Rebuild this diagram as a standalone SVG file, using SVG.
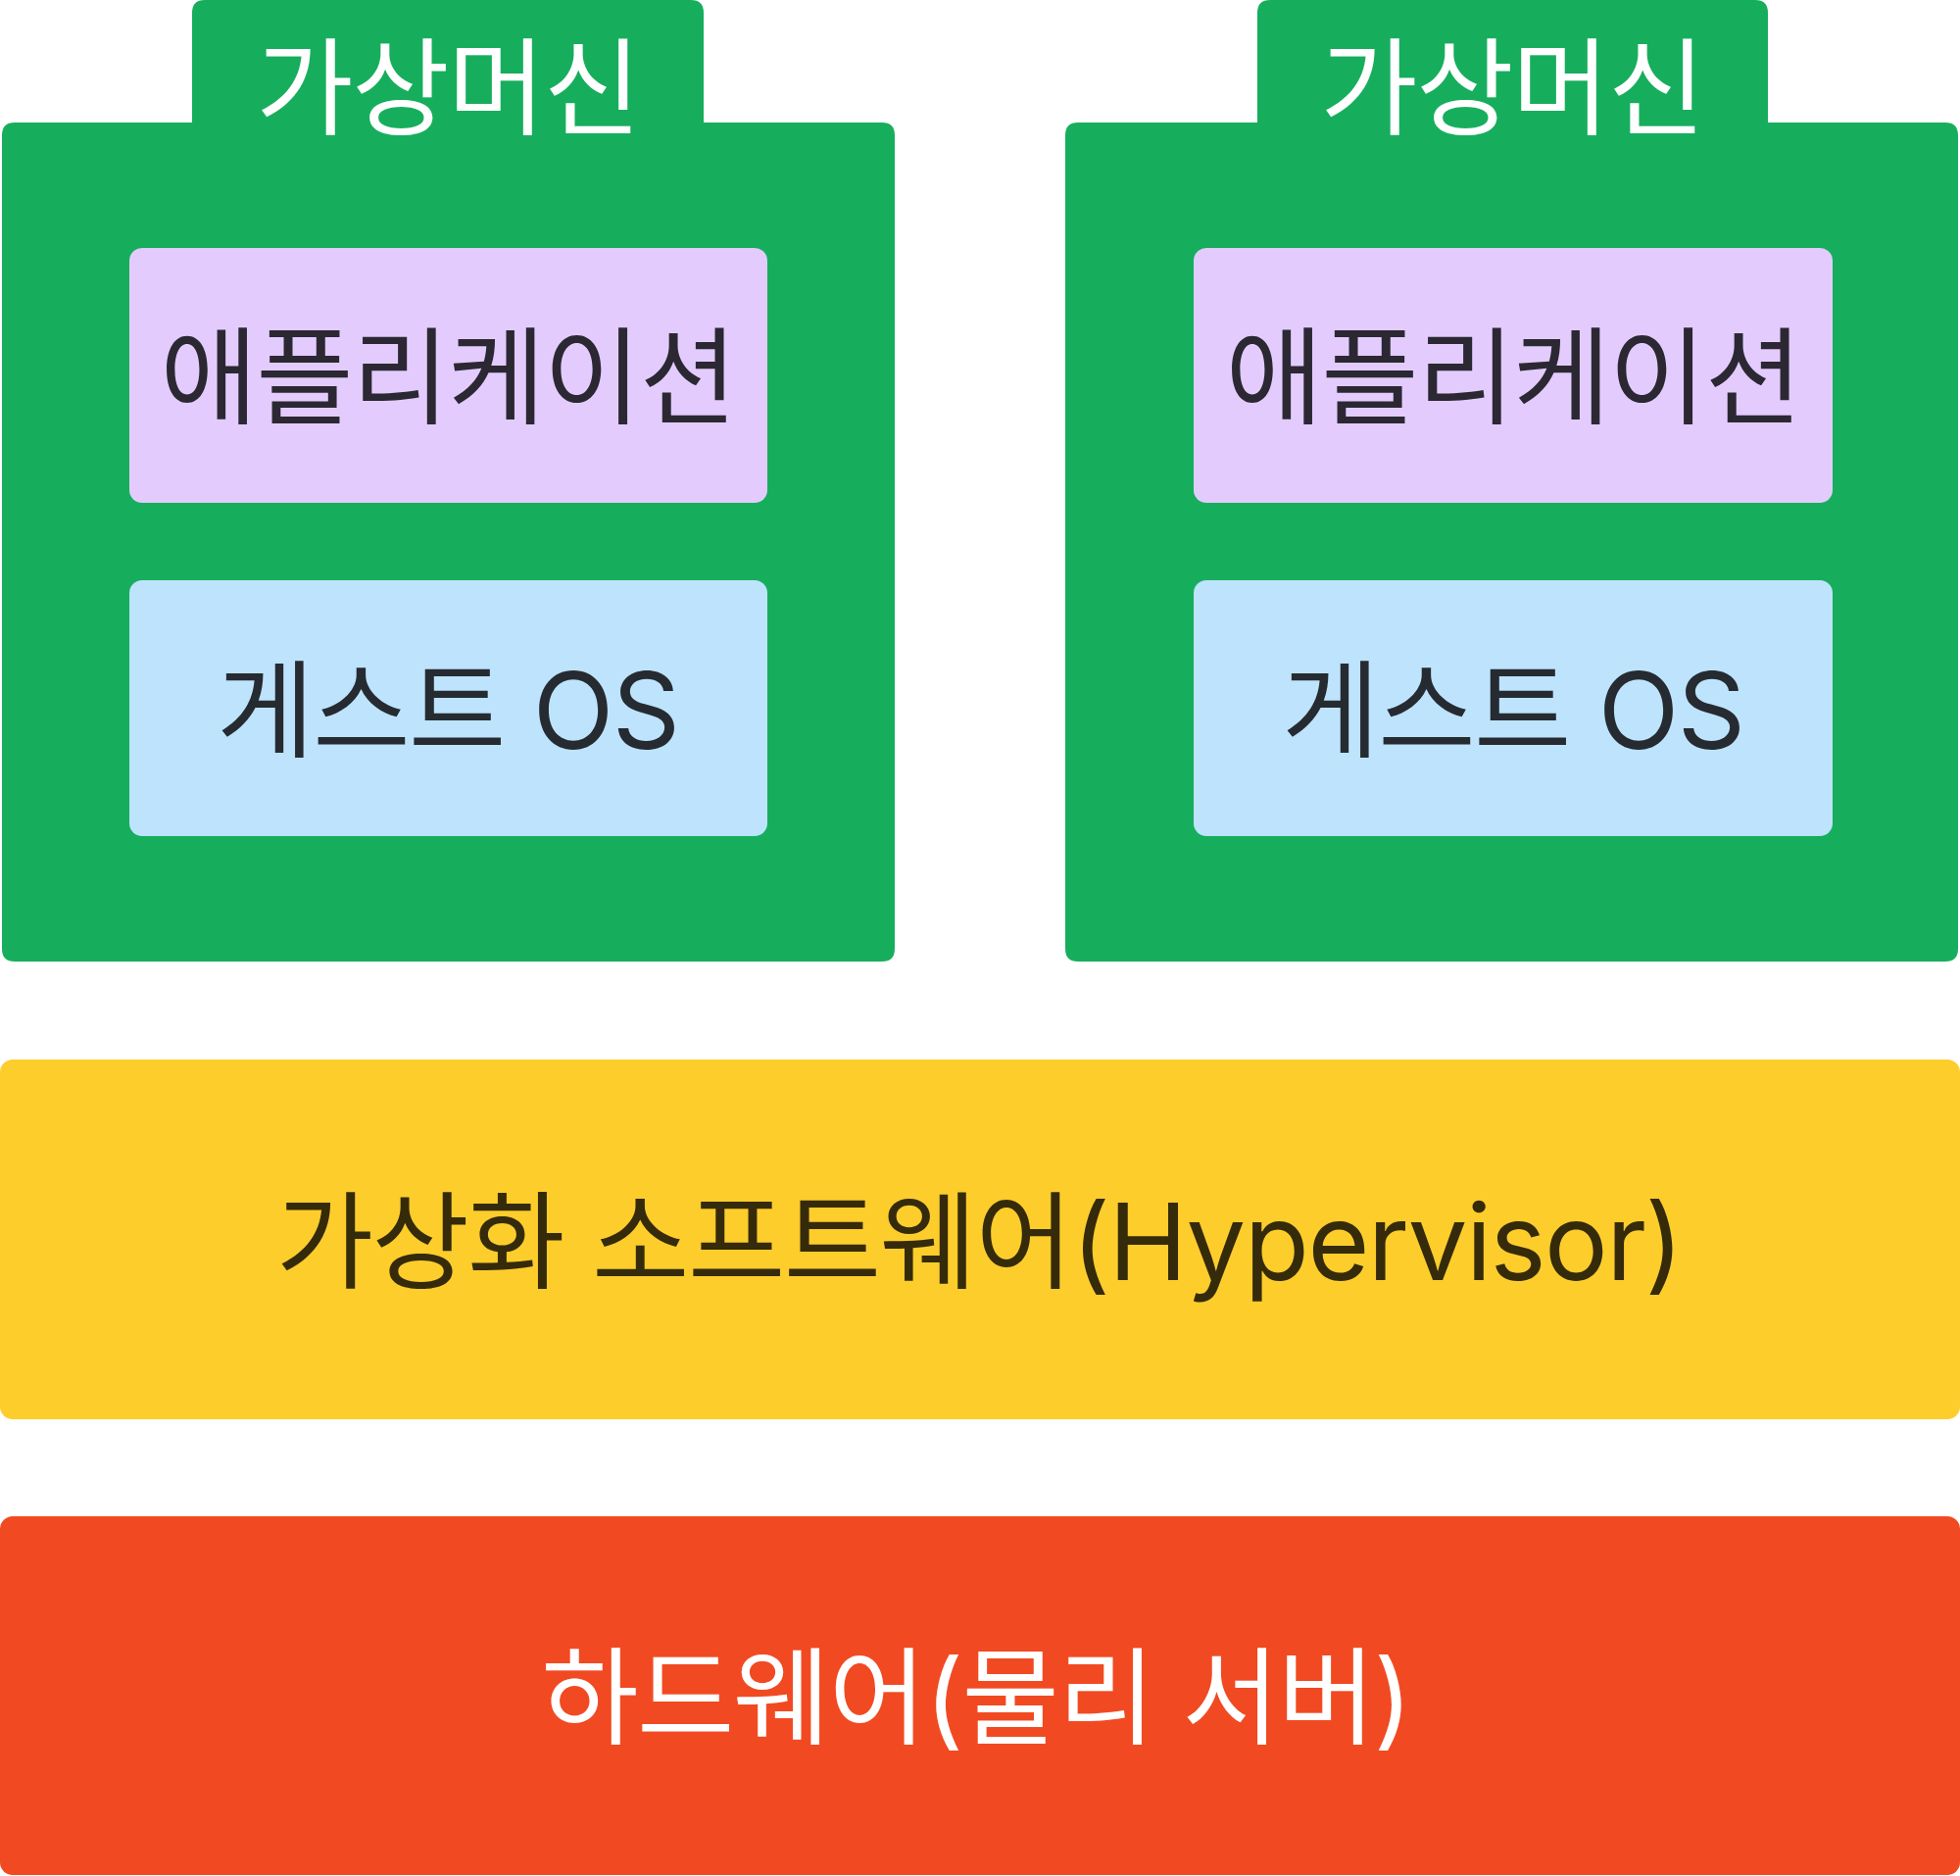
<svg xmlns="http://www.w3.org/2000/svg" width="2000" height="1914" viewBox="0 0 2000 1914">
<style>
.vm{fill:#16AE5D}
.app{fill:#E3CCFD}
.os{fill:#BEE3FD}
.hv{fill:#FDCD2C}
.hw{fill:#F14A22}
text{font-family:Inter,"Noto Sans CJK KR",sans-serif;font-size:108px;text-anchor:middle;letter-spacing:-1.5px}
.w{fill:#FFFFFF}
.ta{fill:#2B2833}
.to{fill:#262B31}
.th{fill:#352B0B}
</style>
<rect width="2000" height="1914" fill="#FFFFFF"/>
<g id="vm1">
<path class="vm" d="M196,13 Q196,0 209,0 L705,0 Q718,0 718,13 L718,125 L900,125 Q913,125 913,138 L913,968 Q913,981 900,981 L15,981 Q2,981 2,968 L2,138 Q2,125 15,125 L196,125 Z"/>
<text class="w" x="457" y="129">가상머신</text>
</g>
<g id="app1">
<rect class="app" x="132" y="253" width="651" height="260" rx="13"/>
<text class="ta" x="457" y="424">애플리케이션</text>
</g>
<g id="os1">
<rect class="os" x="132" y="592" width="651" height="261" rx="13"/>
<text class="to" x="457" y="764">게스트 OS</text>
</g>
<g id="vm2">
<path class="vm" d="M1283,13 Q1283,0 1296,0 L1791,0 Q1804,0 1804,13 L1804,125 L1985,125 Q1998,125 1998,138 L1998,968 Q1998,981 1985,981 L1100,981 Q1087,981 1087,968 L1087,138 Q1087,125 1100,125 L1283,125 Z"/>
<text class="w" x="1543" y="129">가상머신</text>
</g>
<g id="app2">
<rect class="app" x="1218" y="253" width="652" height="260" rx="13"/>
<text class="ta" x="1544" y="424">애플리케이션</text>
</g>
<g id="os2">
<rect class="os" x="1218" y="592" width="652" height="261" rx="13"/>
<text class="to" x="1544" y="764">게스트 OS</text>
</g>
<g id="hypervisor">
<rect class="hv" x="0" y="1081" width="2000" height="367" rx="13"/>
<text class="th" x="999" y="1306">가상화 소프트웨어(Hypervisor)</text>
</g>
<g id="hardware">
<rect class="hw" x="0" y="1547" width="2000" height="366" rx="13"/>
<text class="w" x="996" y="1771">하드웨어(물리 서버)</text>
</g>
<g id="connectors"></g>
</svg>
